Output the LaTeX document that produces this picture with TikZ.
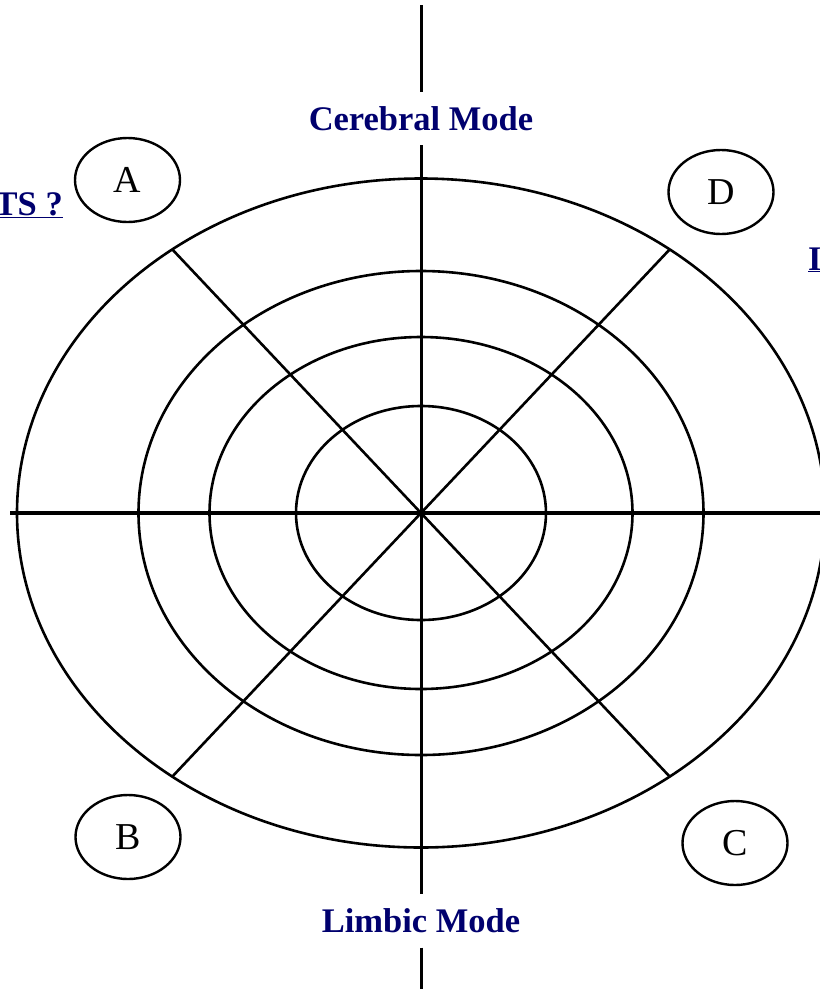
\documentclass[tikz,border=0pt]{standalone}
\usepackage{fontspec}
\setmainfont{Liberation Serif}
\usepackage{xcolor}
\usepackage{tikz}
\usetikzlibrary{shapes.geometric}
\definecolor{modeblue}{RGB}{0,0,110}

\begin{document}
\begin{tikzpicture}[x=1pt,y=-1pt,
  ringline/.style={line width=2.6pt},
  axisline/.style={line width=3pt},
  quadnode/.style={draw,ellipse,line width=2.4pt,minimum width=105pt,minimum height=84pt,inner sep=0pt,font=\fontsize{38}{40}\selectfont},
  modetext/.style={text=modeblue,font=\bfseries\fontsize{34.5}{40}\selectfont,inner sep=0pt,minimum height=53pt},
  edgetext/.style={text=modeblue,font=\bfseries\fontsize{34.5}{40}\selectfont,inner sep=0pt}]
\useasboundingbox (0,0) rectangle (820,989);
\clip (0,0) rectangle (820,989);
% 中心与轴线端点
\coordinate (O) at (421,513);
\coordinate (Top) at (421,5);
\coordinate (Bot) at (421,989);
\coordinate (Lft) at (10,513);
\coordinate (Rgt) at (820,513);
% 对角线端点（在外椭圆上）
\coordinate (P1) at (172.3,249.4);
\coordinate (P2) at (669.7,249.4);
\coordinate (P3) at (172.3,776.6);
\coordinate (P4) at (669.7,776.6);
% 同心椭圆
\draw[ringline] (O) ellipse (404pt and 334.5pt);
\draw[ringline] (O) ellipse (282.5pt and 242pt);
\draw[ringline] (O) ellipse (211.5pt and 176pt);
\draw[ringline] (O) ellipse (125pt and 107pt);
% 两种模式
\node[modetext] (Cer) at (421,118.5) {Cerebral Mode};
\node[modetext] (Lim) at (421,921) {Limbic Mode};
% 轴线
\draw[axisline] (Top)--(Cer);
\draw[axisline] (Cer)--(Lim);
\draw[axisline] (Lim)--(Bot);
\draw[line width=3.8pt] (Lft)--(Rgt);
\draw[ringline] (P1)--(P4);
\draw[ringline] (P2)--(P3);
% 四个象限
\node[quadnode] (A) at (127.5,180) {A};
\node[quadnode] (D) at (721,192) {D};
\node[quadnode] (B) at (128,837) {B};
\node[quadnode] (C) at (735,843) {C};
% 边缘文字
\node[edgetext,anchor=base east] (Lq) at (63,215) {\underline{TS ?}};
\node[edgetext,anchor=base west] (Rq) at (808,270) {\underline{I}};
\end{tikzpicture}
\end{document}
